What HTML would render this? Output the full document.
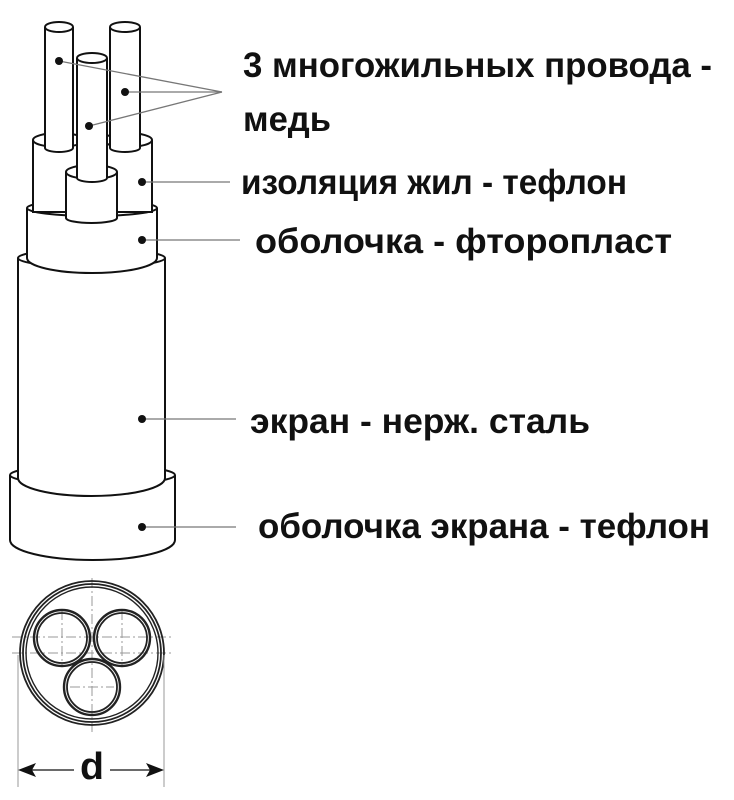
<!DOCTYPE html>
<html><head><meta charset="utf-8"><style>
html,body{margin:0;padding:0;background:#fff;}
svg{display:block;}
text{font-family:"Liberation Sans",sans-serif;fill:#111;}
</style></head><body>
<svg width="734" height="800" viewBox="0 0 734 800" xmlns="http://www.w3.org/2000/svg">
<g fill="#fff" stroke="#111" stroke-width="2">
<path d="M10,475 L10,540 A82.5,20 0 0 0 175,540 L175,475"/>
<ellipse cx="92.5" cy="475" rx="82.5" ry="10"/>
<path d="M18,258 L18,478 A73.5,18 0 0 0 165,478 L165,258"/>
<ellipse cx="91.5" cy="258" rx="73.5" ry="9"/>
<path d="M27,208 L27,258 A65,15 0 0 0 157,258 L157,208"/>
<ellipse cx="92" cy="208" rx="65" ry="8"/>
<path d="M33,140 L33,212 L84,212 L84,140"/>
<ellipse cx="58.5" cy="140" rx="25.5" ry="7"/>
<path d="M45,27 L45,148 A14,4 0 0 0 73,148 L73,27"/>
<ellipse cx="59" cy="27" rx="14" ry="5"/>
<path d="M103,140 L103,212 L152,212 L152,140"/>
<ellipse cx="127.5" cy="140" rx="24.5" ry="7"/>
<path d="M110,27 L110,148 A15,4 0 0 0 140,148 L140,27"/>
<ellipse cx="125" cy="27" rx="15" ry="5"/>
<path d="M66,172 L66,218 A25.5,5 0 0 0 117,218 L117,172"/>
<ellipse cx="91.5" cy="172" rx="25.5" ry="7"/>
<path d="M77,58 L77,178 A15,4 0 0 0 107,178 L107,58"/>
<ellipse cx="92" cy="58" rx="15" ry="5"/>
</g>
<g stroke="#777" stroke-width="1.3" fill="none">
<line x1="59" y1="61" x2="222" y2="92"/>
<line x1="125" y1="92" x2="222" y2="92"/>
<line x1="89" y1="126" x2="222" y2="92"/>
<line x1="142" y1="182" x2="230" y2="182"/>
<line x1="142" y1="240" x2="240" y2="240"/>
<line x1="142" y1="419" x2="236" y2="419"/>
<line x1="142" y1="527" x2="236" y2="527"/>
</g>
<g fill="#111">
<circle cx="59" cy="61" r="4"/><circle cx="125" cy="92" r="4"/><circle cx="89" cy="126" r="4"/>
<circle cx="142" cy="182" r="4"/><circle cx="142" cy="240" r="4"/><circle cx="142" cy="419" r="4"/><circle cx="142" cy="527" r="4"/>
</g>
<g font-size="35" font-weight="bold">
<text x="243" y="77" textLength="469" lengthAdjust="spacingAndGlyphs">3 многожильных провода -</text>
<text x="243" y="131" textLength="88" lengthAdjust="spacingAndGlyphs">медь</text>
<text x="241" y="194" textLength="386" lengthAdjust="spacingAndGlyphs">изоляция жил - тефлон</text>
<text x="255" y="253" textLength="417" lengthAdjust="spacingAndGlyphs">оболочка - фторопласт</text>
<text x="250" y="433" textLength="340" lengthAdjust="spacingAndGlyphs">экран - нерж. сталь</text>
<text x="258" y="538" textLength="452" lengthAdjust="spacingAndGlyphs">оболочка экрана - тефлон</text>
</g>
<g stroke="#999" stroke-width="1" stroke-dasharray="10,3,2,3" fill="none">
<line x1="12" y1="637" x2="172" y2="637"/>
<line x1="12" y1="653" x2="172" y2="653"/>
<line x1="92" y1="578" x2="92" y2="732"/>
<line x1="62" y1="610" x2="62" y2="666"/>
<line x1="122" y1="610" x2="122" y2="666"/>
<line x1="70" y1="687" x2="114" y2="687"/>
</g>
<g fill="none" stroke="#222">
<circle cx="92" cy="653" r="72" stroke-width="1.8"/>
<circle cx="92" cy="653" r="69" stroke-width="1.8"/>
<circle cx="92" cy="653" r="66" stroke-width="1.4"/>
<circle cx="62" cy="638" r="28" stroke-width="2.4"/>
<circle cx="62" cy="638" r="25" stroke-width="1.8"/>
<circle cx="122" cy="638" r="28" stroke-width="2.4"/>
<circle cx="122" cy="638" r="25" stroke-width="1.8"/>
<circle cx="92" cy="687" r="28" stroke-width="2.4"/>
<circle cx="92" cy="687" r="25" stroke-width="1.8"/>
</g>
<g stroke="#999" stroke-width="1">
<line x1="18" y1="655" x2="18" y2="787"/>
<line x1="164" y1="655" x2="164" y2="787"/>
</g>
<g stroke="#111" stroke-width="1.3">
<line x1="30" y1="770" x2="74" y2="770"/>
<line x1="110" y1="770" x2="152" y2="770"/>
</g>
<polygon points="18,770 36,763 32,770 36,777" fill="#111"/>
<polygon points="164,770 146,763 150,770 146,777" fill="#111"/>
<text x="92" y="779" font-size="38" font-weight="bold" text-anchor="middle" textLength="24" lengthAdjust="spacingAndGlyphs">d</text>
</svg>
</body></html>
